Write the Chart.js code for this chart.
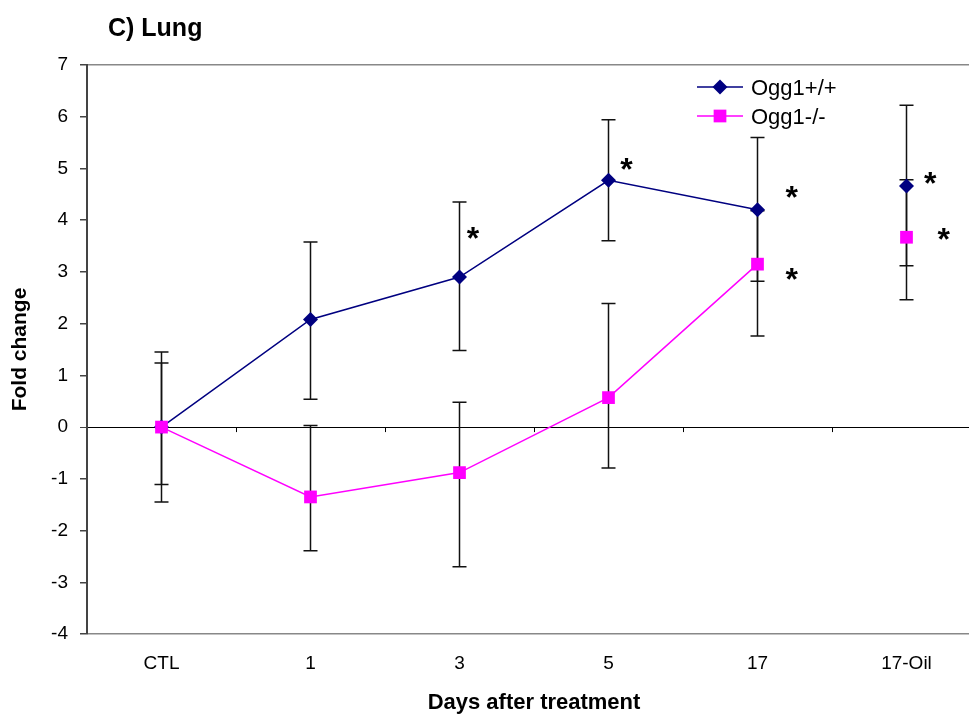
<!DOCTYPE html>
<html>
<head>
<meta charset="utf-8">
<title>C) Lung</title>
<script src="https://cdn.jsdelivr.net/npm/chart.js@4/dist/chart.umd.min.js"></script>
<style>
  html, body { margin: 0; padding: 0; background: #fff; overflow: hidden; }
  canvas { display: block; }
</style>
</head>
<body>
<canvas id="lung" width="990" height="715"></canvas>
<script>
const days = ['CTL', '1', '3', '5', '17', '17-Oil'];

// Ogg1+/+ fold change with error bar ends
const wtMean = [0, 2.08, 2.90, 4.77, 4.20, 4.66];
const wtHigh = [1.45, 3.58, 4.35, 5.94, 5.60, 6.22];
const wtLow  = [-1.45, 0.54, 1.48, 3.60, 2.82, 3.12];

// Ogg1-/- fold change with error bar ends
const koMean = [0, -1.35, -0.88, 0.57, 3.15, 3.67];
const koHigh = [1.24, 0.03, 0.48, 2.39, 4.18, 4.78];
const koLow  = [-1.11, -2.39, -2.70, -0.79, 1.76, 2.46];

// significance stars: [category position, fold change]
const stars = [[2.09, 3.81], [3.12, 5.13], [4.23, 4.60], [4.23, 3.00], [5.16, 4.87], [5.25, 3.79]];

const yMin = -4, yMax = 7;

const FONT = "'Liberation Sans', Arial, sans-serif";
Chart.defaults.font.family = FONT;
Chart.defaults.color = '#000';

const WT_COLOR = '#000080';
const KO_COLOR = '#ff00ff';

// 17-Oil is a separate group, so no line runs into it
const hideLastSegment = ctx => ctx.p1DataIndex === days.length - 1 ? 'rgba(0,0,0,0)' : undefined;

const extras = {
    id: 'extras',
    beforeDatasetsDraw(chart) {
        const {ctx, scales: {x, y}} = chart;
        ctx.save();
        // small ticks under the zero line between the days
        const y0 = y.getPixelForValue(0);
        ctx.strokeStyle = '#000';
        ctx.lineWidth = 1;
        for (let i = 1; i < days.length; i++) {
            const px = Math.round(x.getPixelForValue(i - 0.5)) + 0.5;
            ctx.beginPath();
            ctx.moveTo(px, y0);
            ctx.lineTo(px, y0 + 5);
            ctx.stroke();
        }
        // error bars
        ctx.lineWidth = 1.5;
        ctx.strokeStyle = '#111';
        chart.data.datasets.forEach(ds => {
            ds.errHigh.forEach((hi, i) => {
                const px = x.getPixelForValue(i);
                const top = y.getPixelForValue(hi);
                const bot = y.getPixelForValue(ds.errLow[i]);
                ctx.beginPath();
                ctx.moveTo(px, top); ctx.lineTo(px, bot);
                ctx.moveTo(px - 7, top); ctx.lineTo(px + 7, top);
                ctx.moveTo(px - 7, bot); ctx.lineTo(px + 7, bot);
                ctx.stroke();
            });
        });
        ctx.restore();
    },
    afterDraw(chart) {
        const {ctx, scales: {x, y}} = chart;
        ctx.save();

        // panel title
        ctx.fillStyle = '#000';
        ctx.font = "bold 25px " + FONT;
        ctx.textAlign = 'left';
        ctx.textBaseline = 'alphabetic';
        ctx.fillText('C) Lung', 108, 36);

        // stars
        const starSize = 32;
        ctx.font = "bold " + starSize + "px " + FONT;
        ctx.textAlign = 'center';
        stars.forEach(([cx, cy]) => {
            ctx.fillText('*', x.getPixelForValue(cx), y.getPixelForValue(cy) + starSize * 0.58);
        });

        // legend, line through marker
        const rows = [87, 116];
        ctx.font = "22px " + FONT;
        ctx.textAlign = 'left';
        chart.data.datasets.forEach((ds, i) => {
            const ly = rows[i];
            ctx.strokeStyle = ds.borderColor;
            ctx.lineWidth = ds.borderWidth;
            ctx.beginPath();
            ctx.moveTo(697, ly);
            ctx.lineTo(743, ly);
            ctx.stroke();
            ctx.fillStyle = ds.pointBackgroundColor;
            Chart.helpers.drawPoint(ctx, {
                pointStyle: ds.pointStyle, radius: ds.pointRadius, rotation: 0, borderWidth: 0
            }, 720, ly);
            ctx.fillStyle = '#000';
            ctx.fillText(ds.label, 751, ly + 8);
        });
        ctx.restore();
    }
};

new Chart(document.getElementById('lung'), {
    type: 'line',
    data: {
        labels: days,
        datasets: [
            {
                label: 'Ogg1+/+',
                data: wtMean,
                errHigh: wtHigh,
                errLow: wtLow,
                order: 1,
                borderColor: WT_COLOR,
                borderWidth: 1.5,
                pointStyle: 'rectRot',
                pointRadius: 7.5,
                pointBackgroundColor: WT_COLOR,
                pointBorderWidth: 0,
                tension: 0,
                segment: { borderColor: hideLastSegment }
            },
            {
                label: 'Ogg1-/-',
                data: koMean,
                errHigh: koHigh,
                errLow: koLow,
                order: 0,
                borderColor: KO_COLOR,
                borderWidth: 1.5,
                pointStyle: 'rect',
                pointRadius: 9,
                pointBackgroundColor: KO_COLOR,
                pointBorderWidth: 0,
                tension: 0,
                segment: { borderColor: hideLastSegment }
            }
        ]
    },
    options: {
        responsive: false,
        animation: false,
        layout: { padding: { top: 65, right: 9, left: 0, bottom: 0 } },
        plugins: {
            legend: { display: false },
            tooltip: { enabled: false }
        },
        scales: {
            x: {
                offset: true,
                grid: { display: false },
                border: { display: false },
                ticks: { font: { size: 19 }, padding: 10, maxRotation: 0, autoSkip: false },
                title: {
                    display: true,
                    text: 'Days after treatment',
                    font: { size: 22, weight: 'bold', lineHeight: 1.1 },
                    padding: { top: 4, bottom: 0 }
                },
                afterFit(scale) { scale.height = 81; }
            },
            y: {
                min: yMin,
                max: yMax,
                ticks: { stepSize: 1, font: { size: 19 }, padding: 12 },
                grid: {
                    drawTicks: true,
                    tickLength: 7,
                    tickColor: '#444',
                    lineWidth: ctx => ctx.tick && ctx.tick.value === 0 ? 1 : 1.5,
                    color: ctx => {
                        if (!ctx.tick) return 'rgba(0,0,0,0)';
                        if (ctx.tick.value === 0) return '#000';
                        if (ctx.tick.value === yMin || ctx.tick.value === yMax) return '#888';
                        return 'rgba(0,0,0,0)';
                    }
                },
                border: { color: '#444', width: 2 },
                title: {
                    display: true,
                    text: 'Fold change',
                    font: { size: 21, weight: 'bold' },
                    padding: { top: 8, bottom: 0 }
                },
                afterFit(scale) { scale.width = 87; }
            }
        }
    },
    plugins: [extras]
});
</script>
</body>
</html>
